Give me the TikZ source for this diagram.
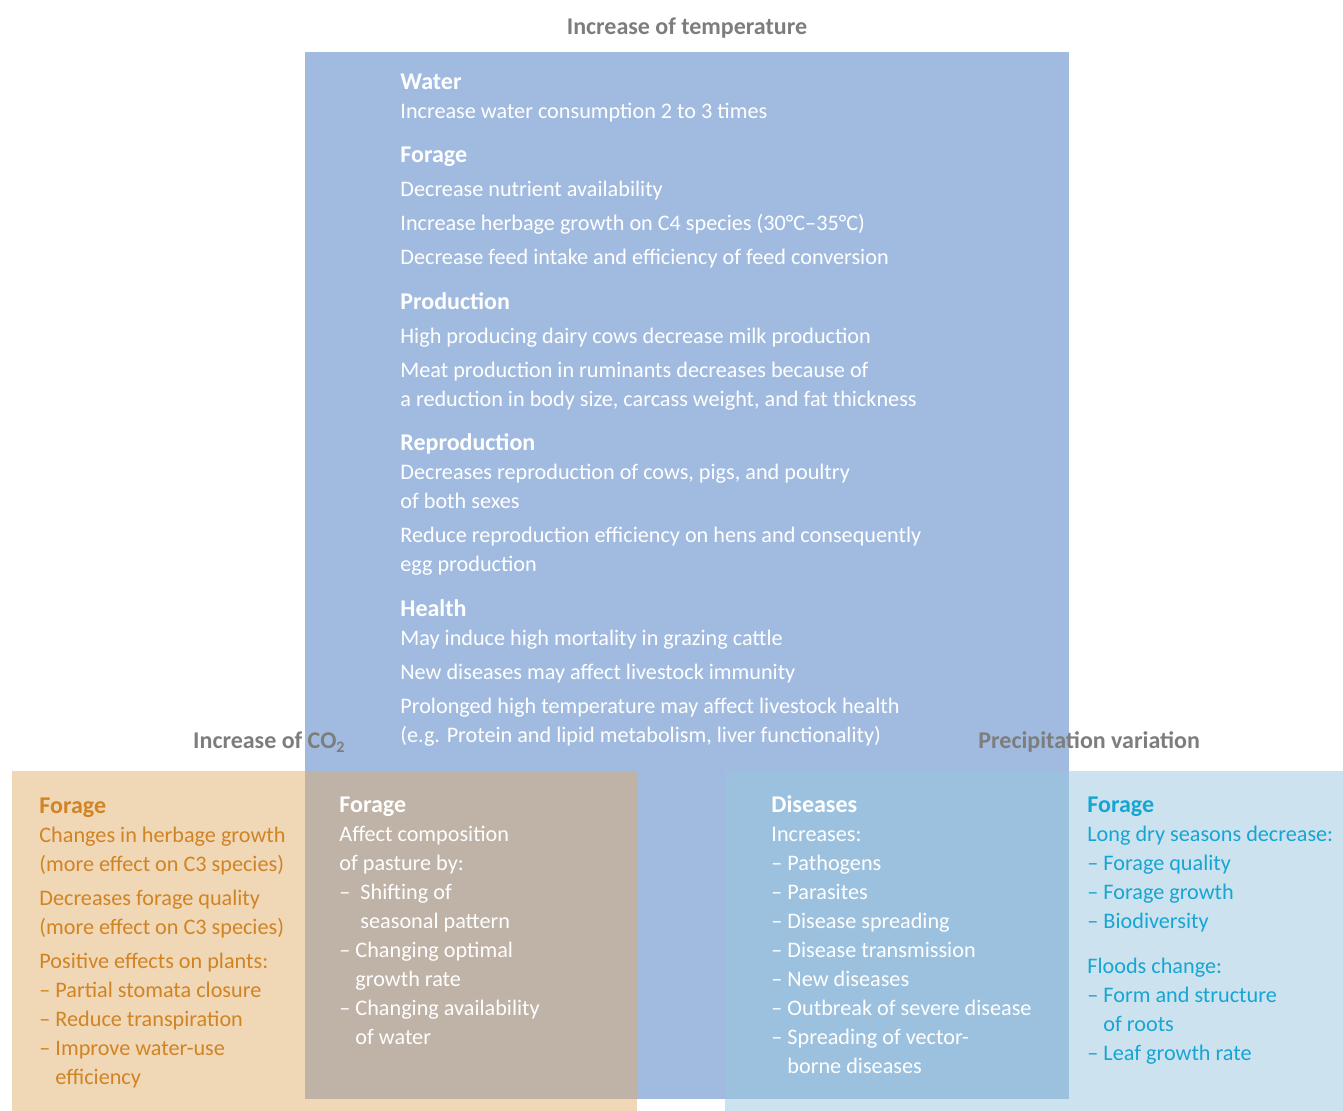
\documentclass[tikz,border=0pt]{standalone}
\usepackage{fontspec}
\setmainfont{Carlito}
\usepackage{tikz}
\usetikzlibrary{positioning}
\definecolor{tempblue}{HTML}{A1BBE0}
\definecolor{cotwo}{HTML}{F0D7B6}
\definecolor{cotwomix}{HTML}{BFB2A6}
\definecolor{rainblue}{HTML}{CCE3EF}
\definecolor{rainmix}{HTML}{9CC1DF}
\definecolor{cotwotext}{HTML}{D08424}
\definecolor{raintext}{HTML}{17A5D3}
\definecolor{headgray}{HTML}{7D7D7D}
\newcommand{\hang}{\phantom{– }}
\newcommand{\topic}[1]{{\fontsize{12}{14.5}\selectfont\bfseries #1}}
\tikzset{
  effects/.style={anchor=base west, inner sep=0pt, align=left, font=\fontsize{11.1}{14.5}\selectfont},
  factor/.style={inner sep=0pt, font=\fontsize{12}{14}\selectfont\bfseries, text=headgray},
}

\begin{document}
\begin{tikzpicture}[x=0.5pt,y=-0.5pt]
			\useasboundingbox (0,0) rectangle (1343,1111);
			\fill[tempblue] (305,52) rectangle (1069,1099);
			\fill[cotwo] (12,771) rectangle (637,1111);
			\fill[rainblue] (725,771) rectangle (1343,1111);
			\fill[cotwomix] (305,771) rectangle (637,1099);
			\fill[rainmix] (725,771) rectangle (1069,1099);

			\node[factor] (temp) at (687,28) {Increase of temperature};
			\node[factor,anchor=east] (co2) at (346,742) {Increase of CO\textsubscript{2}};
			\node[factor,anchor=west] (rain) at (978,742) {Precipitation variation};

			% temperature (base = last line)
			\node[effects,text=white] (water) at (400,119) {\topic{Water}\\
				Increase water consumption 2 to 3 times};
			\node[effects,text=white] (forage) at (400,265) {\topic{Forage}\\[2.5pt]
				Decrease nutrient availability\\[2.5pt]
				Increase herbage growth on C4 species (30°C–35°C)\\[2.5pt]
				Decrease feed intake and efficiency of feed conversion};
			\node[effects,text=white] (prod) at (400,407) {\topic{Production}\\[2.5pt]
				High producing dairy cows decrease milk production\\[2.5pt]
				Meat production in ruminants decreases because of\\
				a reduction in body size, carcass weight, and fat thickness};
			\node[effects,text=white] (repro) at (400,572) {\topic{Reproduction}\\
				Decreases reproduction of cows, pigs, and poultry\\
				of both sexes\\[2.5pt]
				Reduce reproduction efficiency on hens and consequently\\
				egg production};
			\node[effects,text=white] (health) at (400,742) {\topic{Health}\\
				May induce high mortality in grazing cattle\\[2.5pt]
				New diseases may affect livestock immunity\\[2.5pt]
				Prolonged high temperature may affect livestock health\\
				(e.g. Protein and lipid metabolism, liver functionality)};

			% co2
			\node[effects,text=cotwotext] (co2forage) at (39,1084) {\topic{Forage}\\
				Changes in herbage growth\\
				(more effect on C3 species)\\[2.5pt]
				Decreases forage quality\\
				(more effect on C3 species)\\[2.5pt]
				Positive effects on plants:\\
				– Partial stomata closure\\
				– Reduce transpiration\\
				– Improve water-use\\
				\hang efficiency};
			\node[effects,text=white] (mixforage) at (339,1044) {\topic{Forage}\\
				Affect composition\\
				of pasture by:\\
				–\ \ Shifting of\\
				\hang\ seasonal pattern\\
				– Changing optimal\\
				\hang growth rate\\
				– Changing availability\\
				\hang of water};

			% precipitation
			\node[effects,text=white] (disease) at (771,1073) {\topic{Diseases}\\
				Increases:\\
				– Pathogens\\
				– Parasites\\
				– Disease spreading\\
				– Disease transmission\\
				– New diseases\\
				– Outbreak of severe disease\\
				– Spreading of vector-\\
				\hang borne diseases};
			\node[effects,text=raintext] (rainforage) at (1087,1060) {\topic{Forage}\\
				Long dry seasons decrease:\\
				– Forage quality\\
				– Forage growth\\
				– Biodiversity\\[8pt]
				Floods change:\\
				– Form and structure\\
				\hang of roots\\
				– Leaf growth rate};
\end{tikzpicture}
\end{document}
